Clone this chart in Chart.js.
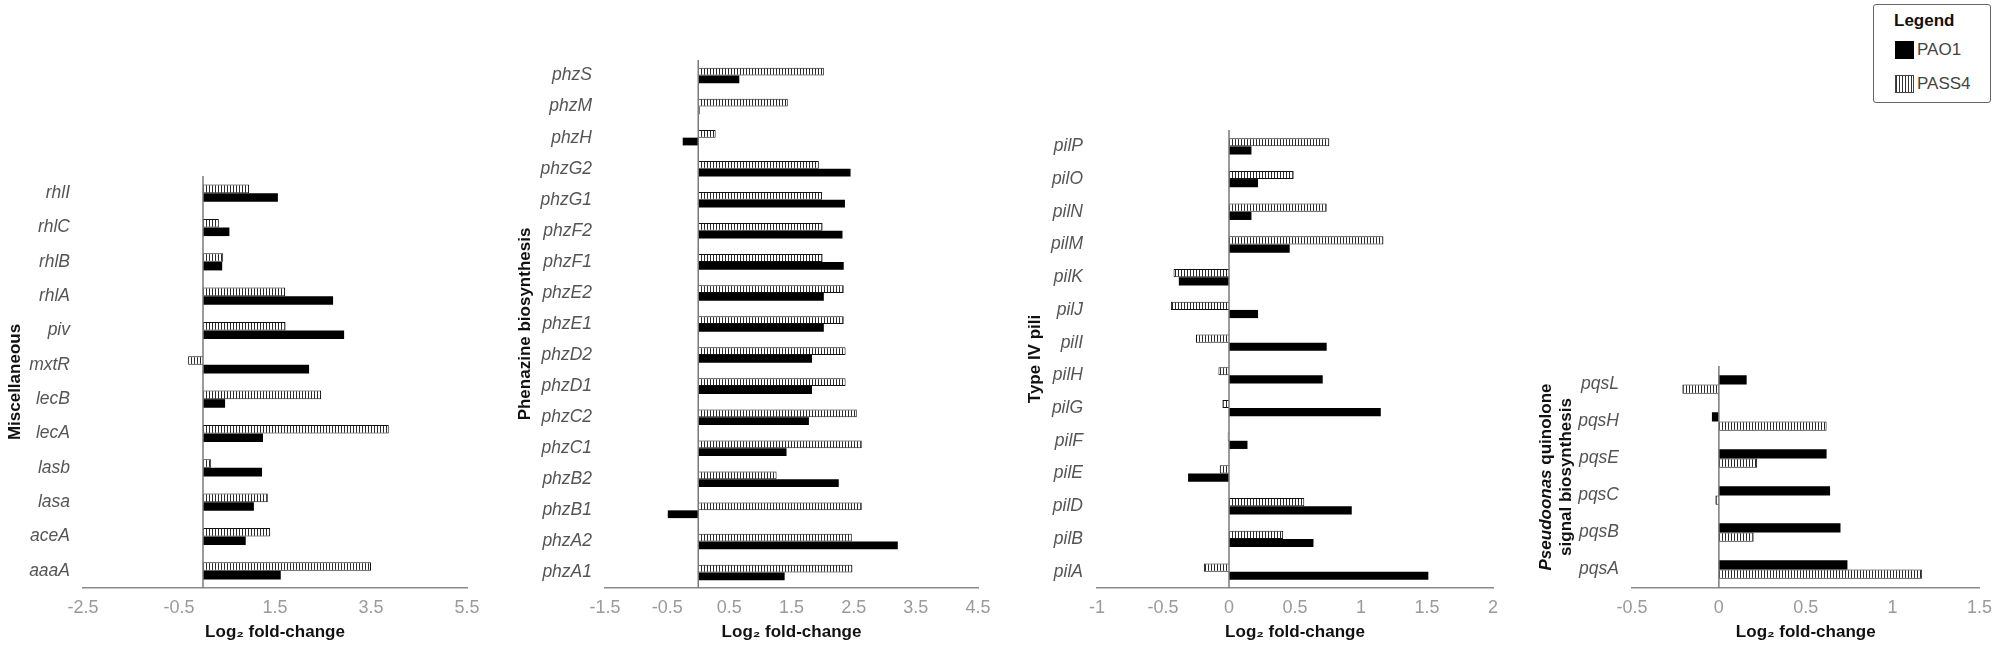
<!DOCTYPE html>
<html>
<head>
<meta charset="utf-8">
<script src="https://cdn.jsdelivr.net/npm/chart.js@4.4.1/dist/chart.umd.min.js"></script>
<style>
  html, body { margin: 0; padding: 0; background: #fff; }
  body { width: 2001px; height: 650px; overflow: hidden; position: relative;
         font-family: "Liberation Sans", Arial, Helvetica, sans-serif; }
  #legend { position: absolute; left: 1873px; top: 4px; width: 116px; height: 97px;
            border: 1.5px solid #666; border-radius: 3px; background: #fff; }
  #legend .t { position: absolute; font-size: 17px; line-height: 20px; white-space: nowrap; }
  #legend .sw { position: absolute; width: 19px; height: 18px; box-sizing: border-box; }
</style>
</head>
<body>
<div id="legend"></div>
<script>
// ---------------- DATA ----------------
const seriesNames = ['PAO1', 'PASS4'];
const xTitle = 'Log₂ fold-change';

const miscTitle = 'Miscellaneous';
const miscLabels = ['rhlI', 'rhlC', 'rhlB', 'rhlA', 'piv', 'mxtR', 'lecB', 'lecA', 'lasb', 'lasa', 'aceA', 'aaaA'];
const miscPAO1  = [1.56, 0.55, 0.40, 2.71, 2.94, 2.21, 0.46, 1.25, 1.23, 1.06, 0.89, 1.62];
const miscPASS4 = [0.96, 0.33, 0.42, 1.71, 1.72, -0.31, 2.46, 3.87, 0.17, 1.35, 1.40, 3.50];
const miscTicks = [-2.5, -0.5, 1.5, 3.5, 5.5];

const phzTitle = 'Phenazine biosynthesis';
const phzLabels = ['phzS', 'phzM', 'phzH', 'phzG2', 'phzG1', 'phzF2', 'phzF1', 'phzE2', 'phzE1',
                   'phzD2', 'phzD1', 'phzC2', 'phzC1', 'phzB2', 'phzB1', 'phzA2', 'phzA1'];
const phzPAO1  = [0.66, 0.02, -0.25, 2.45, 2.36, 2.32, 2.34, 2.02, 2.02, 1.83, 1.83, 1.78, 1.42, 2.26, -0.49, 3.21, 1.39];
const phzPASS4 = [2.02, 1.44, 0.28, 1.94, 1.99, 2.00, 2.00, 2.34, 2.34, 2.37, 2.37, 2.55, 2.63, 1.26, 2.63, 2.47, 2.48];
const phzTicks = [-1.5, -0.5, 0.5, 1.5, 2.5, 3.5, 4.5];

const pilTitle = 'Type IV pili';
const pilLabels = ['pilP', 'pilO', 'pilN', 'pilM', 'pilK', 'pilJ', 'pilI', 'pilH', 'pilG', 'pilF', 'pilE', 'pilD', 'pilB', 'pilA'];
const pilPAO1  = [0.17, 0.22, 0.17, 0.46, -0.38, 0.22, 0.74, 0.71, 1.15, 0.14, -0.31, 0.93, 0.64, 1.51];
const pilPASS4 = [0.76, 0.49, 0.74, 1.17, -0.42, -0.44, -0.25, -0.08, -0.05, -0.01, -0.07, 0.57, 0.41, -0.19];
const pilTicks = [-1, -0.5, 0, 0.5, 1, 1.5, 2];

const pqsTitleItalic = 'Pseudoonas';
const pqsTitleRest = ' quinolone';
const pqsTitleLine2 = 'signal biosynthesis';
const pqsLabels = ['pqsL', 'pqsH', 'pqsE', 'pqsC', 'pqsB', 'pqsA'];
const pqsPAO1  = [0.16, -0.04, 0.62, 0.64, 0.70, 0.74];
const pqsPASS4 = [-0.21, 0.62, 0.22, -0.02, 0.20, 1.17];
const pqsTicks = [-0.5, 0, 0.5, 1, 1.5];

// ---------------- STYLE / LAYOUT ----------------
const FONT = '"Liberation Sans", Arial, Helvetica, sans-serif';
const H = 650, AXIS_Y = 588;

function stripePattern() {
  const c = document.createElement('canvas');
  c.width = 3; c.height = 3;
  const g = c.getContext('2d');
  g.fillStyle = '#ffffff'; g.fillRect(0, 0, 3, 3);
  g.fillStyle = '#2a2a2a'; g.fillRect(0, 0, 1, 3);
  return g.createPattern(c, 'repeat');
}
const PASS4_FILL = stripePattern();

const zeroLine = {
  id: 'zeroLine',
  afterDatasetsDraw(chart) {
    const x = chart.scales.x.getPixelForValue(0);
    const { top, bottom } = chart.chartArea;
    const ctx = chart.ctx;
    ctx.save();
    ctx.strokeStyle = '#7a7a7a';
    ctx.lineWidth = 1.5;
    ctx.beginPath(); ctx.moveTo(x, top); ctx.lineTo(x, bottom); ctx.stroke();
    ctx.restore();
  }
};

const pqsTitlePlugin = {
  id: 'pqsTitle',
  afterDraw(chart) {
    const ctx = chart.ctx;
    const { top, bottom } = chart.chartArea;
    const yc = (top + bottom) / 2;
    const bold = 'bold 17px ' + FONT, boldIt = 'italic bold 17px ' + FONT;
    ctx.save();
    ctx.fillStyle = '#111';
    ctx.textBaseline = 'middle';
    ctx.save();
    ctx.translate(16, yc); ctx.rotate(-Math.PI / 2);
    ctx.font = boldIt; const w1 = ctx.measureText(pqsTitleItalic).width;
    ctx.font = bold; const w2 = ctx.measureText(pqsTitleRest).width;
    const x0 = -(w1 + w2) / 2;
    ctx.textAlign = 'left';
    ctx.font = boldIt; ctx.fillText(pqsTitleItalic, x0, 0);
    ctx.font = bold; ctx.fillText(pqsTitleRest, x0 + w1, 0);
    ctx.restore();
    ctx.save();
    ctx.translate(36, yc); ctx.rotate(-Math.PI / 2);
    ctx.textAlign = 'center'; ctx.font = bold;
    ctx.fillText(pqsTitleLine2, 0, 0);
    ctx.restore();
    ctx.restore();
  }
};

function makePanel(cfg) {
  const cv = document.createElement('canvas');
  const w = cfg.R - cfg.left + cfg.padR;
  cv.width = w; cv.height = H;
  cv.style.cssText = 'position:absolute;left:' + cfg.left + 'px;top:0;width:' + w + 'px;height:' + H + 'px;';
  document.body.appendChild(cv);

  const pao1 = { label: seriesNames[0], data: cfg.pao1, backgroundColor: '#000', borderColor: '#000', borderWidth: 0 };
  const pass4 = { label: seriesNames[1], data: cfg.pass4, backgroundColor: PASS4_FILL, borderColor: '#111', borderWidth: 1 };
  const datasets = cfg.pao1First ? [pao1, pass4] : [pass4, pao1];
  const ticks = cfg.ticks;

  new Chart(cv, {
    type: 'bar',
    data: { labels: cfg.labels, datasets },
    options: {
      indexAxis: 'y',
      responsive: false,
      animation: false,
      devicePixelRatio: 1,
      layout: { padding: { top: cfg.T, right: cfg.padR, bottom: 0, left: 0 } },
      plugins: { legend: { display: false }, tooltip: { enabled: false } },
      datasets: { bar: { categoryPercentage: 0.5, barPercentage: 1 } },
      scales: {
        x: {
          type: 'linear',
          min: ticks[0], max: ticks[ticks.length - 1],
          afterBuildTicks: (s) => { s.ticks = ticks.map(v => ({ value: v })); },
          afterFit: (s) => { s.height = H - AXIS_Y; },
          grid: { display: false, drawTicks: false },
          border: { display: true, color: '#8a8a8a', width: 1.5 },
          ticks: { color: '#9a9a9a', font: { family: FONT, size: 18 }, padding: 9,
                   autoSkip: false, maxRotation: 0, callback: (v) => String(v) },
          title: { display: true, text: xTitle, color: '#111',
                   font: { family: FONT, size: 17, weight: 'bold' }, padding: { top: 0, bottom: 7 } }
        },
        y: {
          afterFit: (s) => { s.width = cfg.L - cfg.left; },
          grid: { display: false, drawTicks: false },
          border: { display: false },
          ticks: { color: '#555', font: { family: FONT, size: 17.5, style: 'italic' },
                   padding: cfg.L - cfg.labelRight, autoSkip: false },
          title: { display: !!cfg.title, text: cfg.title || '', color: '#111',
                   font: { family: FONT, size: 17, weight: 'bold' }, padding: { top: 0, bottom: 0 } }
        }
      }
    },
    plugins: [zeroLine].concat(cfg.extra || [])
  });
}

makePanel({ left: 5, L: 83, R: 467, T: 176, padR: 25, labelRight: 70, title: miscTitle,
            labels: miscLabels, pao1: miscPAO1, pass4: miscPASS4, ticks: miscTicks });
makePanel({ left: 515, L: 605, R: 978, T: 60, padR: 25, labelRight: 592, title: phzTitle,
            labels: phzLabels, pao1: phzPAO1, pass4: phzPASS4, ticks: phzTicks });
makePanel({ left: 1025, L: 1097, R: 1493, T: 130, padR: 25, labelRight: 1083, title: pilTitle,
            labels: pilLabels, pao1: pilPAO1, pass4: pilPASS4, ticks: pilTicks });
makePanel({ left: 1530, L: 1632, R: 1982, T: 366, padR: 19, labelRight: 1619, title: null,
            labels: pqsLabels, pao1: pqsPAO1, pass4: pqsPASS4, ticks: pqsTicks, pao1First: true,
            extra: [pqsTitlePlugin] });

// ---------------- LEGEND ----------------
(function buildLegend() {
  const lg = document.getElementById('legend');
  const head = document.createElement('div');
  head.className = 't';
  head.style.cssText = 'left:20px;top:6px;font-weight:bold;color:#111;';
  head.textContent = 'Legend';
  lg.appendChild(head);
  const tops = [36, 70];
  seriesNames.forEach((name, i) => {
    const sw = document.createElement('div');
    sw.className = 'sw';
    sw.style.left = '21px';
    sw.style.top = tops[i] + 'px';
    if (i === 0) {
      sw.style.background = '#000';
    } else {
      sw.style.background = 'repeating-linear-gradient(90deg, #333 0px, #333 1px, #fff 1px, #fff 3px)';
      sw.style.border = '1px solid #444';
    }
    lg.appendChild(sw);
    const t = document.createElement('div');
    t.className = 't';
    t.style.cssText = 'left:43px;top:' + (tops[i] - 1) + 'px;color:#444;';
    t.textContent = name;
    lg.appendChild(t);
  });
})();
</script>
</body>
</html>
